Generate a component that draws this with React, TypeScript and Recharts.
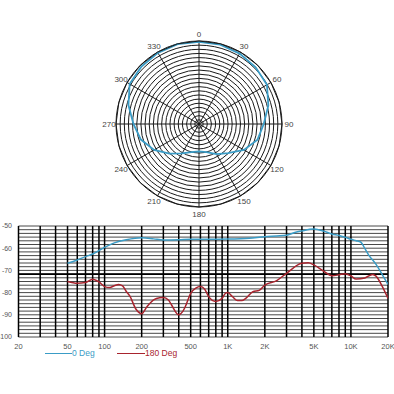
import React from "react";
import {
  RadarChart,
  Radar,
  PolarGrid,
  PolarAngleAxis,
  PolarRadiusAxis,
  LineChart,
  Line,
  XAxis,
  YAxis,
  CartesianGrid,
  ReferenceLine,
} from "recharts";

// polar pattern, every 15 degrees (radius in rings, 20 = outer circle)
const polarAngles = [0, 15, 30, 45, 60, 75, 90, 105, 120, 135, 150, 165, 180, 195, 210, 225, 240, 255, 270, 285, 300, 315, 330, 345];
const polarLevels = [19.8, 19.8, 19.6, 19.3, 18.9, 17.3, 15.6, 14.6, 12.5, 9.9, 8.4, 7.0, 6.6, 7.0, 8.2, 10.1, 12.5, 14.5, 15.8, 17.6, 19.3, 19.6, 19.8, 19.9];

// frequency response
const freq0 = [50, 60, 70, 80, 100, 120, 150, 200, 250, 300, 400, 500, 700, 1000, 1500, 2000, 2500, 3000, 3500, 4000, 5000, 6000, 7000, 8000, 9000, 10000, 11000, 12000, 13000, 14000, 16000, 18000, 20000];
const db0 = [-66.8, -65.3, -63.8, -62.6, -59.6, -57.6, -56.2, -55.3, -55.8, -56.3, -56.2, -56, -56, -55.9, -55.5, -54.8, -54.5, -54.2, -52.9, -52.2, -51.4, -52.3, -53.6, -54.3, -55.1, -56, -56.6, -57.2, -60.2, -63.2, -67.3, -72, -76.3];

const freq180 = [50, 60, 70, 80, 90, 100, 110, 120, 130, 140, 150, 160, 180, 200, 220, 250, 280, 300, 330, 350, 400, 430, 450, 500, 550, 600, 650, 700, 800, 900, 950, 1000, 1100, 1200, 1300, 1400, 1600, 1800, 2000, 2500, 3000, 4000, 4500, 5000, 6000, 7000, 8000, 9000, 10000, 11000, 13000, 15000, 16000, 18000, 20000];
const db180 = [-75, -75.8, -75.5, -74, -75.2, -77.3, -77.7, -76.9, -76.3, -77, -79.5, -81.5, -87.5, -89.5, -86.5, -83.3, -82.3, -82.2, -83.3, -85.6, -90, -88.6, -86.6, -80.3, -78, -77.3, -78.5, -81.8, -84, -82.6, -80.5, -80, -82, -83.6, -83.6, -82.6, -79.6, -79, -76.6, -74.6, -71.3, -66.8, -66.6, -67.5, -70.3, -72.4, -72, -71.5, -72.5, -73.9, -73.4, -71.8, -72.6, -77.3, -82.6];

const freqTicks = [20, 30, 40, 50, 60, 70, 80, 90, 100, 200, 300, 400, 500, 600, 700, 800, 900, 1000, 2000, 3000, 4000, 5000, 6000, 7000, 8000, 9000, 10000, 20000];
const freqLabels: Record<number, string> = { 20: "20", 50: "50", 100: "100", 200: "200", 500: "500", 1000: "1K", 2000: "2K", 5000: "5K", 10000: "10K", 20000: "20K" };
const dbTicks = Array.from({ length: 31 }, (_, k) => -100 + (k * 10) / 6);

const BLUE = "#3a9cc6";
const RED = "#a8242e";
const FONT = "'Liberation Sans', Arial, sans-serif";

const polarData = polarAngles.map((a, i) => ({ angle: a, r: polarLevels[i] }));
const data0 = freq0.map((f, i) => ({ f, db: db0[i] }));
const data180 = freq180.map((f, i) => ({ f, db: db180[i] }));

const spokes = [0, 30, 60, 90, 120, 150, 180, 210, 240, 270, 300, 330].map((d) => 90 - d);

const AngleTick = (props: any) => {
  const { x, y, payload } = props;
  if (payload.value % 30 !== 0) return null;
  return (
    <text x={x} y={y} textAnchor="middle" dominantBaseline="central" fontSize={8} fill="#444" fontFamily={FONT}>
      {payload.value}
    </text>
  );
};

const dbFormat = (v: number) => {
  const r = Math.round(v);
  return Math.abs(r - v) < 0.01 && r % 10 === 0 ? String(r) : "";
};

export default function App() {
  return (
    <div style={{ position: "absolute", left: 0, top: 0, width: 394, height: 394, background: "#fff", fontFamily: FONT }}>
      <div style={{ position: "absolute", left: 0, top: 0 }}>
        <RadarChart width={394} height={220} cx={199} cy={124} outerRadius={83} data={polarData} margin={{ top: 0, right: 0, bottom: 0, left: 0 }}>
          <PolarGrid gridType="circle" polarAngles={spokes} stroke="#1a1a1a" strokeOpacity={1} strokeWidth={1} />
          <PolarAngleAxis dataKey="angle" tick={AngleTick} tickSize={7} tickLine={false} axisLine={{ stroke: "#1a1a1a" }} />
          <PolarRadiusAxis domain={[0, 20]} tickCount={21} tick={false} axisLine={false} />
          <Radar dataKey="r" stroke={BLUE} strokeWidth={1.8} fill="none" fillOpacity={0} dot={false} isAnimationActive={false} />
        </RadarChart>
      </div>
      <div style={{ position: "absolute", left: 0, top: 200 }}>
        <LineChart width={394} height={194} margin={{ top: 26, right: 6, left: 0, bottom: 0 }}>
          <CartesianGrid vertical={false} stroke="#333" strokeWidth={0.9} />
          <CartesianGrid horizontal={false} stroke="#000" strokeWidth={1.5} />
          <XAxis
            dataKey="f"
            type="number"
            scale="log"
            domain={[20, 20000]}
            ticks={freqTicks}
            interval={0}
            allowDataOverflow
            tickFormatter={(v: number) => freqLabels[v] ?? ""}
            tick={{ fontSize: 7.5, fill: "#555", fontFamily: FONT }}
            tickLine={false}
            axisLine={false}
            tickMargin={0.5}
            height={57}
          />
          <YAxis
            type="number"
            domain={[-100, -50]}
            ticks={dbTicks}
            interval={0}
            tickFormatter={dbFormat}
            tick={{ fontSize: 7, fill: "#555", fontFamily: FONT }}
            tickLine={false}
            axisLine={false}
            tickMargin={0.5}
            width={18.5}
          />
          <ReferenceLine y={dbTicks[17]} stroke="#000" strokeWidth={1.6} />
          <Line data={data0} dataKey="db" type="monotone" stroke={BLUE} strokeWidth={1.5} dot={false} isAnimationActive={false} />
          <Line data={data180} dataKey="db" type="monotone" stroke={RED} strokeWidth={1.5} dot={false} isAnimationActive={false} />
        </LineChart>
      </div>
      <div style={{ position: "absolute", left: 45, top: 352.5, width: 27, height: 1.5, background: BLUE }} />
      <div style={{ position: "absolute", left: 72, top: 348, fontSize: 8.5, color: BLUE, lineHeight: "10px" }}>0 Deg</div>
      <div style={{ position: "absolute", left: 117, top: 352.5, width: 28, height: 1.5, background: RED }} />
      <div style={{ position: "absolute", left: 145, top: 348, fontSize: 8.5, color: RED, lineHeight: "10px" }}>180 Deg</div>
    </div>
  );
}
